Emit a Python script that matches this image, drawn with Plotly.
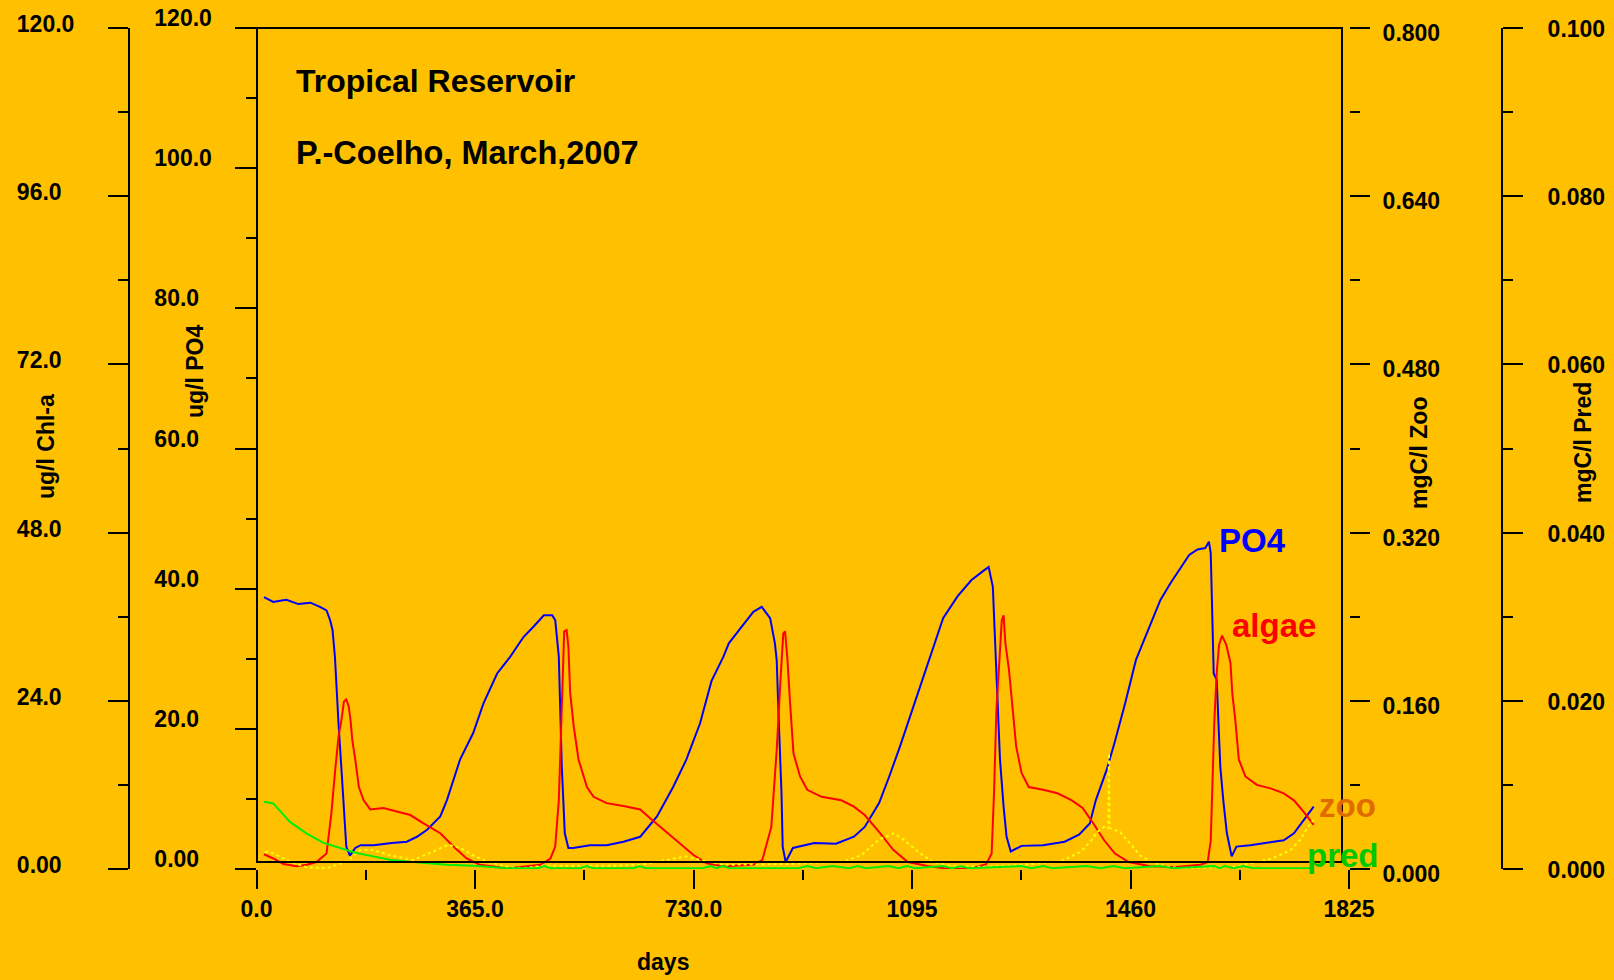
import plotly.graph_objects as go

W, H = 1614, 980
BG = "#ffc000"
FONT = "Liberation Sans, Arial, Helvetica, sans-serif"

# ---------------- data ----------------
po4_day = [12.5, 28, 42, 50, 70, 90, 106, 117, 123, 127, 131, 134, 137, 142, 148, 150, 156, 165,
           174, 196, 226, 251, 268, 285, 307, 318, 340, 362, 379, 402, 424, 446, 463, 480, 494,
           499, 505, 507, 510, 515, 521, 529, 557, 585, 613, 641, 669, 696, 718, 741, 760, 780,
           789, 808, 830, 844, 858, 866, 869, 872, 877, 879, 884, 896, 932, 968, 998, 1016, 1040,
           1057, 1075, 1099, 1123, 1147, 1171, 1194, 1212, 1223, 1230, 1233, 1236, 1242, 1248,
           1253, 1260, 1278, 1314, 1350, 1374, 1392, 1402, 1420, 1433, 1451, 1469, 1493, 1510,
           1527, 1544, 1558, 1572, 1585, 1591, 1594, 1596, 1599, 1604, 1607, 1610, 1615, 1621,
           1629, 1637, 1660, 1688, 1716, 1733, 1749, 1766]
po4_val = [38.8, 38.1, 38.3, 38.4, 37.8, 38.0, 37.4, 36.9, 35.5, 34.1, 30.3, 25.1, 20.8, 14.1, 7.0,
           3.2, 1.9, 3.0, 3.4, 3.4, 3.7, 3.9, 4.6, 5.6, 7.5, 9.8, 15.6, 19.4, 23.6, 27.9, 30.3,
           33.1, 34.6, 36.2, 36.2, 35.5, 30.3, 25.1, 14.6, 5.1, 3.0, 3.0, 3.4, 3.4, 3.9, 4.6, 7.5,
           11.7, 15.6, 20.8, 26.8, 30.3, 32.2, 34.3, 36.7, 37.4, 35.8, 32.2, 29.8, 22.2, 10.8, 3.2,
           1.0, 3.0, 3.7, 3.6, 4.6, 6.0, 9.4, 13.2, 17.5, 23.6, 29.8, 35.8, 38.9, 41.2, 42.4, 43.1,
           40.3, 34.6, 27.9, 15.6, 8.9, 4.6, 2.5, 3.3, 3.4, 3.9, 4.9, 6.5, 9.8, 14.1, 17.9, 23.6,
           29.8, 35.0, 38.4, 40.8, 43.1, 44.8, 45.6, 45.8, 46.7, 45.1, 38.4, 27.9, 27.0, 20.3,
           14.6, 9.8, 5.1, 1.8, 3.2, 3.4, 3.7, 4.1, 5.1, 7.0, 8.9]

algae_day = [12.5, 28, 45, 67, 84, 100, 117, 125, 131, 137, 142, 146, 150, 154, 157, 160, 165, 171,
             179, 190, 212, 234, 257, 279, 307, 329, 351, 373, 418, 452, 474, 491, 499, 505, 509,
             510, 514, 518, 521, 524, 530, 538, 552, 563, 585, 613, 641, 658, 680, 702, 730, 752,
             780, 830, 845, 860, 869, 875, 880, 883, 887, 891, 897, 908, 920, 944, 977, 998, 1016,
             1040, 1064, 1088, 1123, 1159, 1195, 1219, 1228, 1232, 1236, 1241, 1245, 1248, 1251,
             1257, 1263, 1269, 1278, 1290, 1314, 1338, 1362, 1380, 1398, 1416, 1434, 1457, 1493,
             1535, 1577, 1589, 1594, 1597, 1600, 1604, 1608, 1613, 1620, 1627, 1630, 1635, 1641,
             1652, 1671, 1694, 1716, 1733, 1749, 1766]
algae_val = [2.1, 1.5, 0.7, 0.4, 0.6, 1.0, 2.2, 7.9, 13.7, 18.9, 21.3, 23.9, 24.2, 23.2, 21.3, 18.4,
             15.6, 11.7, 9.8, 8.5, 8.7, 8.2, 7.7, 6.5, 5.1, 3.2, 1.5, 0.6, 0.1, 0.4, 0.6, 1.5, 3.2,
             9.8, 20.3, 26.0, 33.9, 34.1, 31.7, 25.1, 20.3, 15.6, 11.7, 10.3, 9.4, 9.0, 8.5, 7.2,
             5.6, 4.1, 2.0, 0.8, 0.4, 0.6, 1.3, 6.0, 17.0, 26.5, 33.6, 33.9, 29.8, 24.1, 16.5, 13.2,
             11.3, 10.3, 9.8, 8.9, 7.7, 5.3, 2.7, 1.0, 0.4, 0.0, 0.1, 0.7, 2.2, 10.8, 22.7, 29.8,
             35.5, 36.2, 32.2, 28.4, 22.7, 17.5, 13.7, 11.7, 11.3, 10.8, 9.8, 8.7, 6.5, 4.1, 2.2,
             1.0, 0.4, 0.3, 0.6, 1.0, 4.0, 12.0, 21.0, 28.0, 32.0, 33.3, 32.0, 29.4, 25.1, 21.3,
             15.6, 13.2, 12.0, 11.5, 10.8, 9.8, 8.2, 6.3]

zoo_day = [14, 28, 56, 84, 117, 151, 173, 195, 223, 262, 295, 320, 340, 362, 385, 418, 446, 474,
           529, 585, 641, 696, 718, 741, 780, 891, 980, 1010, 1040, 1064, 1081, 1105, 1129, 1159,
           1219, 1278, 1310, 1343, 1360, 1377, 1393, 1404, 1418, 1423, 1424, 1425, 1443, 1460,
           1476, 1493, 1516, 1544, 1633, 1660, 1688, 1705, 1727, 1744, 1755, 1766]
zoo_val = [0.0165, 0.015, 0.007, 0.0016, 0.0007, 0.007, 0.018, 0.018, 0.013, 0.0086, 0.0165,
           0.023, 0.020, 0.013, 0.007, 0.0022, 0.0007, 0.003, 0.003, 0.003, 0.004, 0.010, 0.012,
           0.0086, 0.004, 0.0048, 0.007, 0.013, 0.028, 0.034, 0.028, 0.0165, 0.007, 0.003, 0.002,
           0.004, 0.0054, 0.007, 0.0117, 0.0165, 0.026, 0.035, 0.041, 0.039, 0.110, 0.039, 0.035,
           0.024, 0.013, 0.007, 0.003, 0.0007, 0.002, 0.0054, 0.0086, 0.012, 0.018, 0.028, 0.039,
           0.047]

pred_day = [12.5, 28, 56, 84, 112, 139, 167, 195, 223, 251, 284, 318, 362, 418, 446, 470, 481, 492,
            540, 551, 562, 630, 640, 650, 745, 759, 768, 779, 790, 905, 920, 935, 962, 990, 1004,
            1018, 1056, 1072, 1087, 1100, 1147, 1162, 1177, 1190, 1277, 1295, 1314, 1330, 1386,
            1410, 1432, 1450, 1511, 1530, 1600, 1609, 1618, 1632, 1648, 1665, 1766]
pred_val = [0.0080, 0.0078, 0.0056, 0.0042, 0.0031, 0.0025, 0.0019, 0.0015, 0.0011, 0.0009, 0.0007,
            0.0005, 0.0004, 0.0001, 0.0001, 0.0001, 0.00035, 0.0001, 0.0001, 0.00035, 0.0001,
            0.0001, 0.00035, 0.0001, 0.0001, 0.00035, 0.0001, 0.00035, 0.0001, 0.0001, 0.00035,
            0.0001, 0.00035, 0.0001, 0.00035, 0.0001, 0.00035, 0.0001, 0.00035, 0.0001, 0.00035,
            0.0001, 0.00035, 0.0001, 0.00035, 0.0001, 0.00035, 0.0001, 0.00035, 0.0001, 0.00035,
            0.0001, 0.00035, 0.0001, 0.00035, 0.0001, 0.00035, 0.0001, 0.00035, 0.0001, 0.0001]

x_tickvals = [0, 365, 730, 1095, 1460, 1825]
x_ticktext = ["0.0", "365.0", "730.0", "1095", "1460", "1825"]
x_minor = [182.5, 547.5, 912.5, 1277.5, 1642.5]
po4_tickvals = [0, 20, 40, 60, 80, 100, 120]
po4_ticktext = ["0.00", "20.0", "40.0", "60.0", "80.0", "100.0", "120.0"]
po4_minor = [10, 30, 50, 70, 90, 110]
chl_tickvals = [0, 24, 48, 72, 96, 120]
chl_ticktext = ["0.00", "24.0", "48.0", "72.0", "96.0", "120.0"]
chl_minor = [12, 36, 60, 84, 108]
zoo_tickvals = [0, 0.16, 0.32, 0.48, 0.64, 0.8]
zoo_ticktext = ["0.000", "0.160", "0.320", "0.480", "0.640", "0.800"]
zoo_minor = [0.08, 0.24, 0.40, 0.56, 0.72]
pred_tickvals = [0, 0.02, 0.04, 0.06, 0.08, 0.1]
pred_ticktext = ["0.000", "0.020", "0.040", "0.060", "0.080", "0.100"]
pred_minor = [0.01, 0.03, 0.05, 0.07, 0.09]


# ---------------- helpers ----------------
def px(x):
    return x / W


def py(y):
    return 1 - y / H


def left_pad(labels):
    # emulate left-aligned labels: a digit is as wide as two no-break spaces
    n = max(len(s) for s in labels)
    return [s + "\u00a0\u00a0" * (n - len(s)) for s in labels]


tick_common = dict(showgrid=False, zeroline=False, ticks="outside", tickwidth=2,
                   tickcolor="black", linecolor="black", linewidth=2, automargin=False)


def minor(vals):
    return dict(tickvals=vals, ticks="outside", ticklen=10, tickwidth=2,
                tickcolor="black", showgrid=False)


fig = go.Figure()
fig.add_trace(go.Scatter(x=po4_day, y=po4_val, mode="lines", name="PO4",
                         line=dict(color="#0000ff", width=2), yaxis="y", xaxis="x"))
fig.add_trace(go.Scatter(x=algae_day, y=algae_val, mode="lines", name="algae",
                         line=dict(color="#ff0000", width=2), yaxis="y2", xaxis="x"))
fig.add_trace(go.Scatter(x=zoo_day, y=zoo_val, mode="lines", name="zoo",
                         line=dict(color="#ffff00", width=2, dash="dot"), yaxis="y3", xaxis="x"))
fig.add_trace(go.Scatter(x=pred_day, y=pred_val, mode="lines", name="pred",
                         line=dict(color="#00ee00", width=2), yaxis="y4", xaxis="x"))

ydom = [py(869), py(28)]

fig.update_layout(
    template="none",
    width=W, height=H, autosize=False,
    margin=dict(l=0, r=0, t=0, b=0, pad=0, autoexpand=False),
    paper_bgcolor=BG, plot_bgcolor=BG,
    font=dict(family=FONT, size=23, color="black", weight="bold"),
    showlegend=False,
    xaxis=dict(domain=[px(256.5), px(1349)], range=[0, 1825], anchor="y", showline=False,
               ticklen=19, tickvals=x_tickvals, ticktext=x_ticktext, ticklabelstandoff=0,
               minor=minor(x_minor), **tick_common),
    yaxis=dict(domain=ydom, range=[0, 120], anchor="x", side="left", showline=False,
               ticklen=21, tickvals=po4_tickvals, ticktext=left_pad(po4_ticktext),
               ticklabelstandoff=18, ticklabelshift=-10, minor=minor(po4_minor), **tick_common),
    yaxis2=dict(range=[0, 120], overlaying="y", anchor="free", position=px(129), side="left",
                showline=True, ticklen=20, tickvals=chl_tickvals, ticktext=left_pad(chl_ticktext),
                ticklabelstandoff=29, ticklabelshift=-4, minor=minor(chl_minor), **tick_common),
    yaxis3=dict(range=[0, 0.8], overlaying="y", anchor="free", position=px(1349), side="right",
                showline=False, ticklen=20, tickvals=zoo_tickvals, ticktext=zoo_ticktext,
                ticklabelstandoff=8, ticklabelshift=5, minor=minor(zoo_minor), **tick_common),
    yaxis4=dict(range=[0, 0.1], overlaying="y", anchor="free", position=px(1502), side="right",
                showline=True, ticklen=20, tickvals=pred_tickvals, ticktext=pred_ticktext,
                ticklabelstandoff=20, ticklabelshift=1, minor=minor(pred_minor), **tick_common),
)

# plot frame
fig.add_shape(type="rect", xref="paper", yref="paper",
              x0=px(257), x1=px(1342), y0=py(862), y1=py(28),
              line=dict(color="black", width=2), fillcolor="rgba(0,0,0,0)", layer="above")


def ann(text, x, y, size=23, color="black", angle=0, xanchor="center"):
    fig.add_annotation(text=text, x=px(x), y=py(y), xref="paper", yref="paper",
                       showarrow=False, textangle=angle, xanchor=xanchor, yanchor="middle",
                       font=dict(family=FONT, size=size, color=color, weight="bold"))


# titles
ann("Tropical Reservoir", 294, 81, size=32, xanchor="left")
ann("P.-Coelho, March,2007", 294, 153, size=32.5, xanchor="left")

# axis titles
ann("ug/l Chl-a", 46, 447, angle=-90)
ann("ug/l PO4", 195, 371, angle=-90)
ann("mgC/l Zoo", 1419, 453, angle=-90)
ann("mgC/l Pred", 1583, 443, angle=-90)
ann("days", 663, 962)

# series labels
ann("PO4", 1217, 540, size=33, color="#0000ff", xanchor="left")
ann("algae", 1230, 625, size=33, color="#ff0000", xanchor="left")
ann("zoo", 1317, 805, size=33, color="#e06c00", xanchor="left")
ann("pred", 1305, 855, size=33, color="#00c800", xanchor="left")

fig.write_html("out.html")
